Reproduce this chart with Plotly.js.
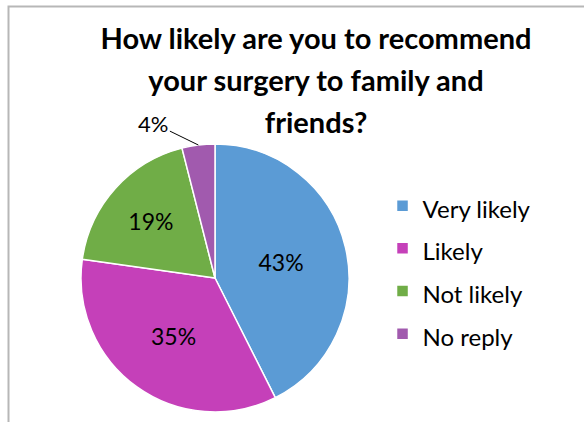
<!DOCTYPE html>
<html>
<head>
<meta charset="utf-8">
<script src="https://cdn.plot.ly/plotly-3.0.1.min.js"></script>
<style>
html,body{margin:0;padding:0;background:#fff;}
#chart{width:584px;height:422px;}
</style>
</head>
<body>
<div id="chart"></div>
<script>
const categories = ["Very likely", "Likely", "Not likely", "No reply"];
const percentValues = [43, 35, 19, 4];
const sliceColors = ["#5B9BD5", "#C540B9", "#70AD47", "#A15AAE"];
const titleLines = ["How likely are you to recommend", "your surgery to family and", "friends?"];

const W = 584, H = 422;
const cx = 215, cy = 278, R = 134;
const domX = [(cx - R) / W, (cx + R) / W];
const domY = [(H - cy - R) / H, (H - cy + R) / H];

const legendLabels = categories.map(c => '<span style="font-size:24px">' + c + '</span>');
const textPos = percentValues.map(v => v < 10 ? 'none' : 'inside');

// annotation for the small slice, computed from the data
const total = percentValues.reduce((a, b) => a + b, 0);
let cum = 0;
const annotations = [];
percentValues.forEach((v, i) => {
  const mid = (cum + v / 2) / total * 2 * Math.PI;
  cum += v;
  if (textPos[i] === 'none') {
    const px = cx + R * Math.sin(mid);
    const py = cy - R * Math.cos(mid);
    annotations.push({
      x: px / W, y: 1 - py / H, xref: 'paper', yref: 'paper',
      text: v + '%', showarrow: true, arrowhead: 0, arrowwidth: 1, arrowcolor: '#000',
      ax: -45, ay: -22, standoff: 0,
      font: {family: 'Lato, sans-serif', size: 22, color: '#000'}
    });
  }
});

const data = [{
  type: 'pie',
  labels: legendLabels,
  values: percentValues,
  sort: false,
  direction: 'clockwise',
  rotation: 0,
  domain: {x: domX, y: domY},
  marker: {colors: sliceColors, line: {color: '#ffffff', width: 1.5}},
  texttemplate: '%{value}%',
  textposition: textPos,
  insidetextorientation: 'horizontal',
  textfont: {family: 'Lato, sans-serif', size: 23, color: '#000'},
  hoverinfo: 'label+percent'
}];

const layout = {
  width: W, height: H,
  margin: {l: 0, r: 0, t: 0, b: 0},
  paper_bgcolor: '#fff',
  font: {family: 'Lato, sans-serif', color: '#000'},
  title: {
    text: titleLines.map(l => '<span style="font-size:29px">' + l + '</span>').join('<br>'),
    x: 316 / W, xanchor: 'center', xref: 'paper',
    y: 0.883, yanchor: 'top', yref: 'paper',
    font: {family: 'Lato, sans-serif', size: 32, weight: 'bold', color: '#000'}
  },
  showlegend: true,
  legend: {
    x: 0.655, xanchor: 'left', y: 0.575, yanchor: 'top',
    font: {family: 'Lato, sans-serif', size: 30.5, color: '#000'},
    bgcolor: 'rgba(0,0,0,0)', traceorder: 'normal'
  },
  annotations: annotations,
  shapes: [{
    type: 'rect', xref: 'paper', yref: 'paper',
    x0: 8.5 / W, x1: 1.05, y0: -0.05, y1: 1 - 6.5 / H,
    line: {color: '#B7B7B7', width: 2}, fillcolor: 'rgba(0,0,0,0)'
  }]
};

Plotly.newPlot('chart', data, layout, {displayModeBar: false, staticPlot: true});
</script>
</body>
</html>
